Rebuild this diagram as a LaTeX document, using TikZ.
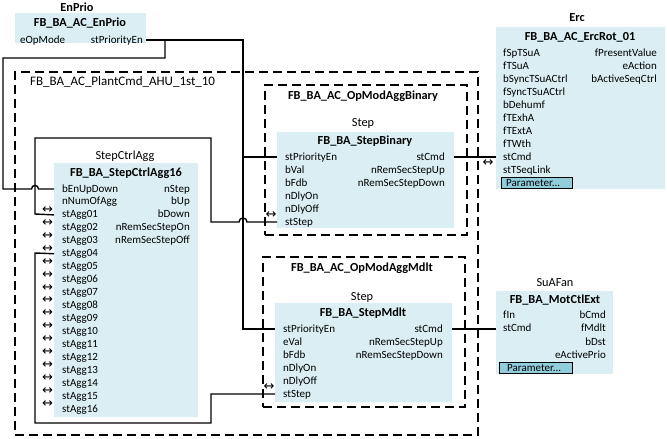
\documentclass[tikz,border=0pt]{standalone}
\usepackage{fontspec}
\setmainfont{Carlito}
\newfontfamily\symfont{DejaVu Sans}
\definecolor{boxblue}{HTML}{DAEEF3}
\definecolor{btnblue}{HTML}{92CDDC}
\newcommand\pfont{\fontsize{11}{12}\selectfont}
\newcommand\tfont{\fontsize{12.3}{14}\selectfont}
\begin{document}
\begin{tikzpicture}[x=1pt,y=-1pt,
 fbbox/.style={fill=boxblue,draw=none,anchor=north west,inner sep=0pt,outer sep=0pt},
 grp/.style={draw=black,line width=1.3pt,dash pattern=on 9pt off 5pt,anchor=north west,inner sep=0pt,outer sep=0pt},
 pl/.style={anchor=west,inner sep=0pt,font=\pfont,text height=7.5pt,text depth=1.5pt},
 pr/.style={anchor=east,inner sep=0pt,font=\pfont,text height=7.5pt,text depth=1.5pt},
 fbtitle/.style={inner sep=0pt,font=\tfont\bfseries},
 inst/.style={inner sep=0pt,font=\tfont},
 wire/.style={line width=1.4pt},
 dbl/.style={inner sep=0pt,font=\symfont\fontsize{13}{13}\selectfont},
 btn/.style={draw=black,line width=1pt,fill=btnblue,anchor=north west,inner sep=0pt,outer sep=0pt}
]
\useasboundingbox (0,0) rectangle (667,439);

% ---------- EnPrio ----------
\node[inst,font=\tfont\bfseries] (epI) at (77,7) {EnPrio};
\node[fbbox,minimum width=131pt,minimum height=30pt] (ep) at (15,13) {};
\node[fbtitle] (epT) at (80,23) {FB\_BA\_AC\_EnPrio};
\node[pl] (epL) at (20,40) {eOpMode};
\node[pr] (epR) at (143,40) {stPriorityEn};

% ---------- outer group ----------
\node[grp,minimum width=463pt,minimum height=363pt] (plant) at (15,72) {};
\node[inst,anchor=west,font=\fontsize{13}{15}\selectfont] (plantT) at (30,82) {FB\_BA\_AC\_PlantCmd\_AHU\_1st\_10};

% ---------- StepCtrlAgg ----------
\node[inst] (scaI) at (125,156) {StepCtrlAgg};
\node[fbbox,minimum width=144pt,minimum height=254pt] (sca) at (54,163) {};
\node[fbtitle] (scaT) at (126,173) {FB\_BA\_StepCtrlAgg16};
\foreach \t [count=\i from 0] in {bEnUpDown,nNumOfAgg,stAgg01,stAgg02,stAgg03,stAgg04,stAgg05,stAgg06,stAgg07,stAgg08,stAgg09,stAgg10,stAgg11,stAgg12,stAgg13,stAgg14,stAgg15,stAgg16}
  \node[pl] (scaL\i) at (62,{189+12.95*\i}) {\t};
\foreach \t [count=\i from 0] in {nStep,bUp,bDown,nRemSecStepOn,nRemSecStepOff}
  \node[pr] (scaR\i) at (190,{189+12.95*\i}) {\t};
\foreach \i in {2,...,17}
  \node[dbl] (scaX\i) at (47.5,{189+12.95*\i-5}) {↔};

% ---------- OpModAggBinary ----------
\node[grp,minimum width=202pt,minimum height=150pt] (gb) at (265,85) {};
\node[fbtitle] (gbT) at (363,96) {FB\_BA\_AC\_OpModAggBinary};
\node[inst] (sbI) at (363,123) {Step};
\node[fbbox,minimum width=177pt,minimum height=96pt] (sb) at (277,132) {};
\node[fbtitle] (sbT) at (365,141) {FB\_BA\_StepBinary};
\foreach \t [count=\i from 0] in {stPriorityEn,bVal,bFdb,nDlyOn,nDlyOff,stStep}
  \node[pl] (sbL\i) at (285,{157+13*\i}) {\t};
\foreach \t [count=\i from 0] in {stCmd,nRemSecStepUp,nRemSecStepDown}
  \node[pr] (sbR\i) at (445,{157+13*\i}) {\t};
\node[dbl] (sbX) at (271,215) {↔};

% ---------- OpModAggMdlt ----------
\node[grp,minimum width=202pt,minimum height=150pt] (gm) at (263,257) {};
\node[fbtitle] (gmT) at (362,268) {FB\_BA\_AC\_OpModAggMdlt};
\node[inst] (smI) at (362,297) {Step};
\node[fbbox,minimum width=177pt,minimum height=99pt] (sm) at (275,303) {};
\node[fbtitle] (smT) at (363,313) {FB\_BA\_StepMdlt};
\foreach \t [count=\i from 0] in {stPriorityEn,eVal,bFdb,nDlyOn,nDlyOff,stStep}
  \node[pl] (smL\i) at (283,{329+13*\i}) {\t};
\foreach \t [count=\i from 0] in {stCmd,nRemSecStepUp,nRemSecStepDown}
  \node[pr] (smR\i) at (443,{329+13*\i}) {\t};
\node[dbl] (smX) at (269,387) {↔};

% ---------- Erc ----------
\node[inst,font=\tfont\bfseries] (ercI) at (577,18) {Erc};
\node[fbbox,minimum width=169pt,minimum height=162pt] (erc) at (496,27) {};
\node[fbtitle] (ercT) at (580,37) {FB\_BA\_AC\_ErcRot\_01};
\foreach \t [count=\i from 0] in {fSpTSuA,fTSuA,bSyncTSuACtrl,fSyncTSuACtrl,bDehumf,fTExhA,fTExtA,fTWth,stCmd,stTSeqLink}
  \node[pl] (ercL\i) at (503,{53+13*\i}) {\t};
\foreach \t [count=\i from 0] in {fPresentValue,eAction,bActiveSeqCtrl}
  \node[pr] (ercR\i) at (657,{53+13*\i}) {\t};
\node[btn,minimum width=71pt,minimum height=10.5pt] (ercB) at (501,177.5) {};
\node[pl] (ercBT) at (506,183) {Parameter...};
\node[dbl] (ercX) at (488,163) {↔};

% ---------- SuAFan ----------
\node[inst] (fanI) at (555,283) {SuAFan};
\node[fbbox,minimum width=117pt,minimum height=83pt] (fan) at (496,291) {};
\node[fbtitle] (fanT) at (555,300) {FB\_BA\_MotCtlExt};
\foreach \t [count=\i from 0] in {fIn,stCmd}
  \node[pl] (fanL\i) at (503,{315+13.5*\i}) {\t};
\foreach \t [count=\i from 0] in {bCmd,fMdlt,bDst,eActivePrio}
  \node[pr] (fanR\i) at (606,{315+13.5*\i}) {\t};
\node[btn,minimum width=73pt,minimum height=10.5pt] (fanB) at (499,362.5) {};
\node[pl] (fanBT) at (507,368) {Parameter...};

% ---------- connectors ----------
\coordinate (tap) at (165,40);
\coordinate (bus) at (243,40);
\draw[wire] (ep.east |- epR) -- (bus) |- (sm.west |- smL0);
\draw[wire] (bus |- sbL0) -- (sb.west |- sbL0);
\draw[wire] (tap) -- ++(0,18) -| (3,189) -- (31.5,189)
  .. controls (31.5,184.3) and (38.5,184.3) .. (38.5,189) -- (sca.west |- scaL0);
\draw[wire] (sca.west |- scaL2) -- (35,214) -- (35,138) -- (211,138) -- (211,222) -- (239,222)
  .. controls (239,216.7) and (247,216.7) .. (247,222) -- (sb.west |- sbL5);
\draw[wire] (sca.west |- scaL5) -- (35,253) -- (35,423) -- (211,423) -- (211,394) -- (sm.west |- smL5);
\draw[wire] (sb.east |- sbR0) -- (erc.west |- sbR0);
\draw[wire] (sm.east |- smR0) -- (fan.west |- smR0);
\end{tikzpicture}
\end{document}
